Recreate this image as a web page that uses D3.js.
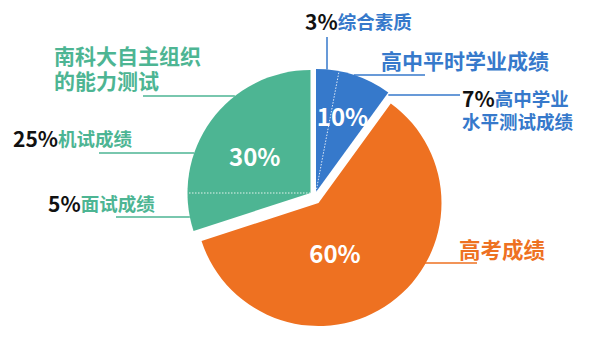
<!DOCTYPE html>
<html>
<head>
<meta charset="utf-8">
<script src="https://cdn.jsdelivr.net/npm/d3@7"></script>
<style>
  html, body { margin: 0; padding: 0; background: #fff; }
  svg { display: block; }
  text { font-family: "Noto Sans CJK SC", "Noto Sans", sans-serif; font-weight: 700; }
</style>
</head>
<body>
<svg id="chart" width="600" height="350"></svg>
<script>
// Main components of the admission score, clockwise from 12 o'clock
const categories = ["高中平时学业成绩", "高考成绩", "南科大自主组织的能力测试"];
const shares = [10, 60, 30];
const sliceColors = ["#3679cb", "#ee7121", "#4db593"];

// Sub-components inside the slices (percent of total, clockwise order)
const subNames = ["综合素质", "高中学业水平测试成绩", "面试成绩", "机试成绩"];
const subValues = [3, 7, 5, 25];
const subParent = [0, 0, 2, 2];

const svg = d3.select("#chart");
const base = { x: 313.5, y: 193 };
const R = 123;
// each slice is pulled slightly away from the centre
const offsets = [[2.5, -1], [5, 10], [-3, 0]];

const pie = d3.pie().sort(null).value(d => d);
const arcs = pie(shares);
const arc = d3.arc().innerRadius(0).outerRadius(R);
const centerOf = i => ({ x: base.x + offsets[i][0], y: base.y + offsets[i][1] });
const polar = (c, a, r) => ({ x: c.x + r * Math.sin(a), y: c.y - r * Math.cos(a) });
// scale from percent to angle
const toAngle = d3.scaleLinear().domain([0, d3.sum(shares)]).range([0, 2 * Math.PI]);

// slices
svg.append("g").selectAll("path")
  .data(arcs)
  .join("path")
  .attr("transform", (d, i) => `translate(${centerOf(i).x},${centerOf(i).y})`)
  .attr("d", arc)
  .attr("fill", (d, i) => sliceColors[i]);

// dotted dividers between sub-components
const dividers = [];
subValues.forEach((v, k) => {
  const p = subParent[k];
  const startPct = d3.sum(shares.slice(0, p));
  const prevInParent = d3.sum(subValues.slice(0, k).filter((_, j) => subParent[j] === p));
  const boundary = startPct + prevInParent + v;
  if (boundary < startPct + shares[p] - 1e-9) dividers.push({ p, angle: toAngle(boundary) });
});
svg.append("g").selectAll("line")
  .data(dividers)
  .join("line")
  .each(function (d) {
    const c = centerOf(d.p), e = polar(c, d.angle, R - 1);
    d3.select(this).attr("x1", c.x).attr("y1", c.y).attr("x2", e.x).attr("y2", e.y);
  })
  .attr("stroke", "#fff")
  .attr("stroke-width", 1)
  .attr("stroke-dasharray", "1.5,1.5")
  .attr("opacity", 0.85);

// percentage labels inside slices
const innerLabelPos = [[26.5, -77], [16.5, 49.7], [-55.8, -37.3]];
svg.append("g").selectAll("text")
  .data(arcs)
  .join("text")
  .attr("x", (d, i) => centerOf(i).x + innerLabelPos[i][0])
  .attr("y", (d, i) => centerOf(i).y + innerLabelPos[i][1])
  .attr("text-anchor", "middle")
  .attr("dominant-baseline", "central")
  .attr("fill", "#fff")
  .attr("font-size", 24)
  .text(d => d.value + "%");

// x where a horizontal line at height y meets a slice's arc
function arcX(i, y, side) {
  const c = centerOf(i);
  return c.x + side * Math.sqrt(R * R - (y - c.y) * (y - c.y));
}

const leaders = svg.append("g").attr("stroke-width", 1.5).attr("fill", "none");
function hline(x1, x2, y, color) {
  leaders.append("line").attr("x1", x1).attr("x2", x2).attr("y1", y).attr("y2", y).attr("stroke", color);
}

const labels = svg.append("g");
// a label is one text element; each line is a list of coloured runs
function label(x, yc, lines, lineGap) {
  const t = labels.append("text").attr("x", x).attr("y", yc).attr("dominant-baseline", "central");
  lines.forEach((runs, li) => {
    runs.forEach((p, ri) => {
      const s = t.append("tspan").attr("fill", p.color).attr("font-size", p.size).text(p.text);
      if (li > 0 && ri === 0) s.attr("x", x).attr("dy", lineGap);
    });
  });
}

const blue = sliceColors[0], orange = sliceColors[1], green = sliceColors[2];
const black = "#111";

// blue slice: main label and its two sub-components
label(381, 60, [[{ text: categories[0], color: blue, size: 21 }]]);
hline(arcX(0, 75, 1), 425, 75, blue);

leaders.append("line")
  .attr("x1", 327).attr("x2", 327)
  .attr("y1", 37).attr("y2", centerOf(0).y - Math.sqrt(R * R - 11 * 11))
  .attr("stroke", blue);
label(305, 21, [[
  { text: subValues[0] + "%", color: black, size: 21 },
  { text: subNames[0], color: blue, size: 18.5 }
]]);

const blueCorner = polar(centerOf(0), arcs[0].endAngle, R);
hline(blueCorner.x, 460, 95, blue);
label(462, 97.5, [
  [{ text: subValues[1] + "%", color: black, size: 21 },
   { text: subNames[1].slice(0, 4), color: blue, size: 18.5 }],
  [{ text: subNames[1].slice(4), color: blue, size: 18.5 }]
], 23.5);

// orange slice
label(459, 248, [[{ text: categories[1], color: orange, size: 21.5 }]]);
hline(arcX(1, 263, 1) - 2, 477, 263, orange);

// green slice: main label and its two sub-components
label(54, 55, [
  [{ text: categories[2].slice(0, 7), color: green, size: 21 }],
  [{ text: categories[2].slice(7), color: green, size: 21 }]
], 25);
hline(143, arcX(2, 96, -1), 96, green);

label(13, 138, [[
  { text: subValues[3] + "%", color: black, size: 21 },
  { text: subNames[3], color: green, size: 18.5 }
]]);
hline(99, arcX(2, 153, -1), 153, green);

label(48, 203, [[
  { text: subValues[2] + "%", color: black, size: 21 },
  { text: subNames[2], color: green, size: 18.5 }
]]);
hline(116, arcX(2, 217, -1), 217, green);
</script>
</body>
</html>
